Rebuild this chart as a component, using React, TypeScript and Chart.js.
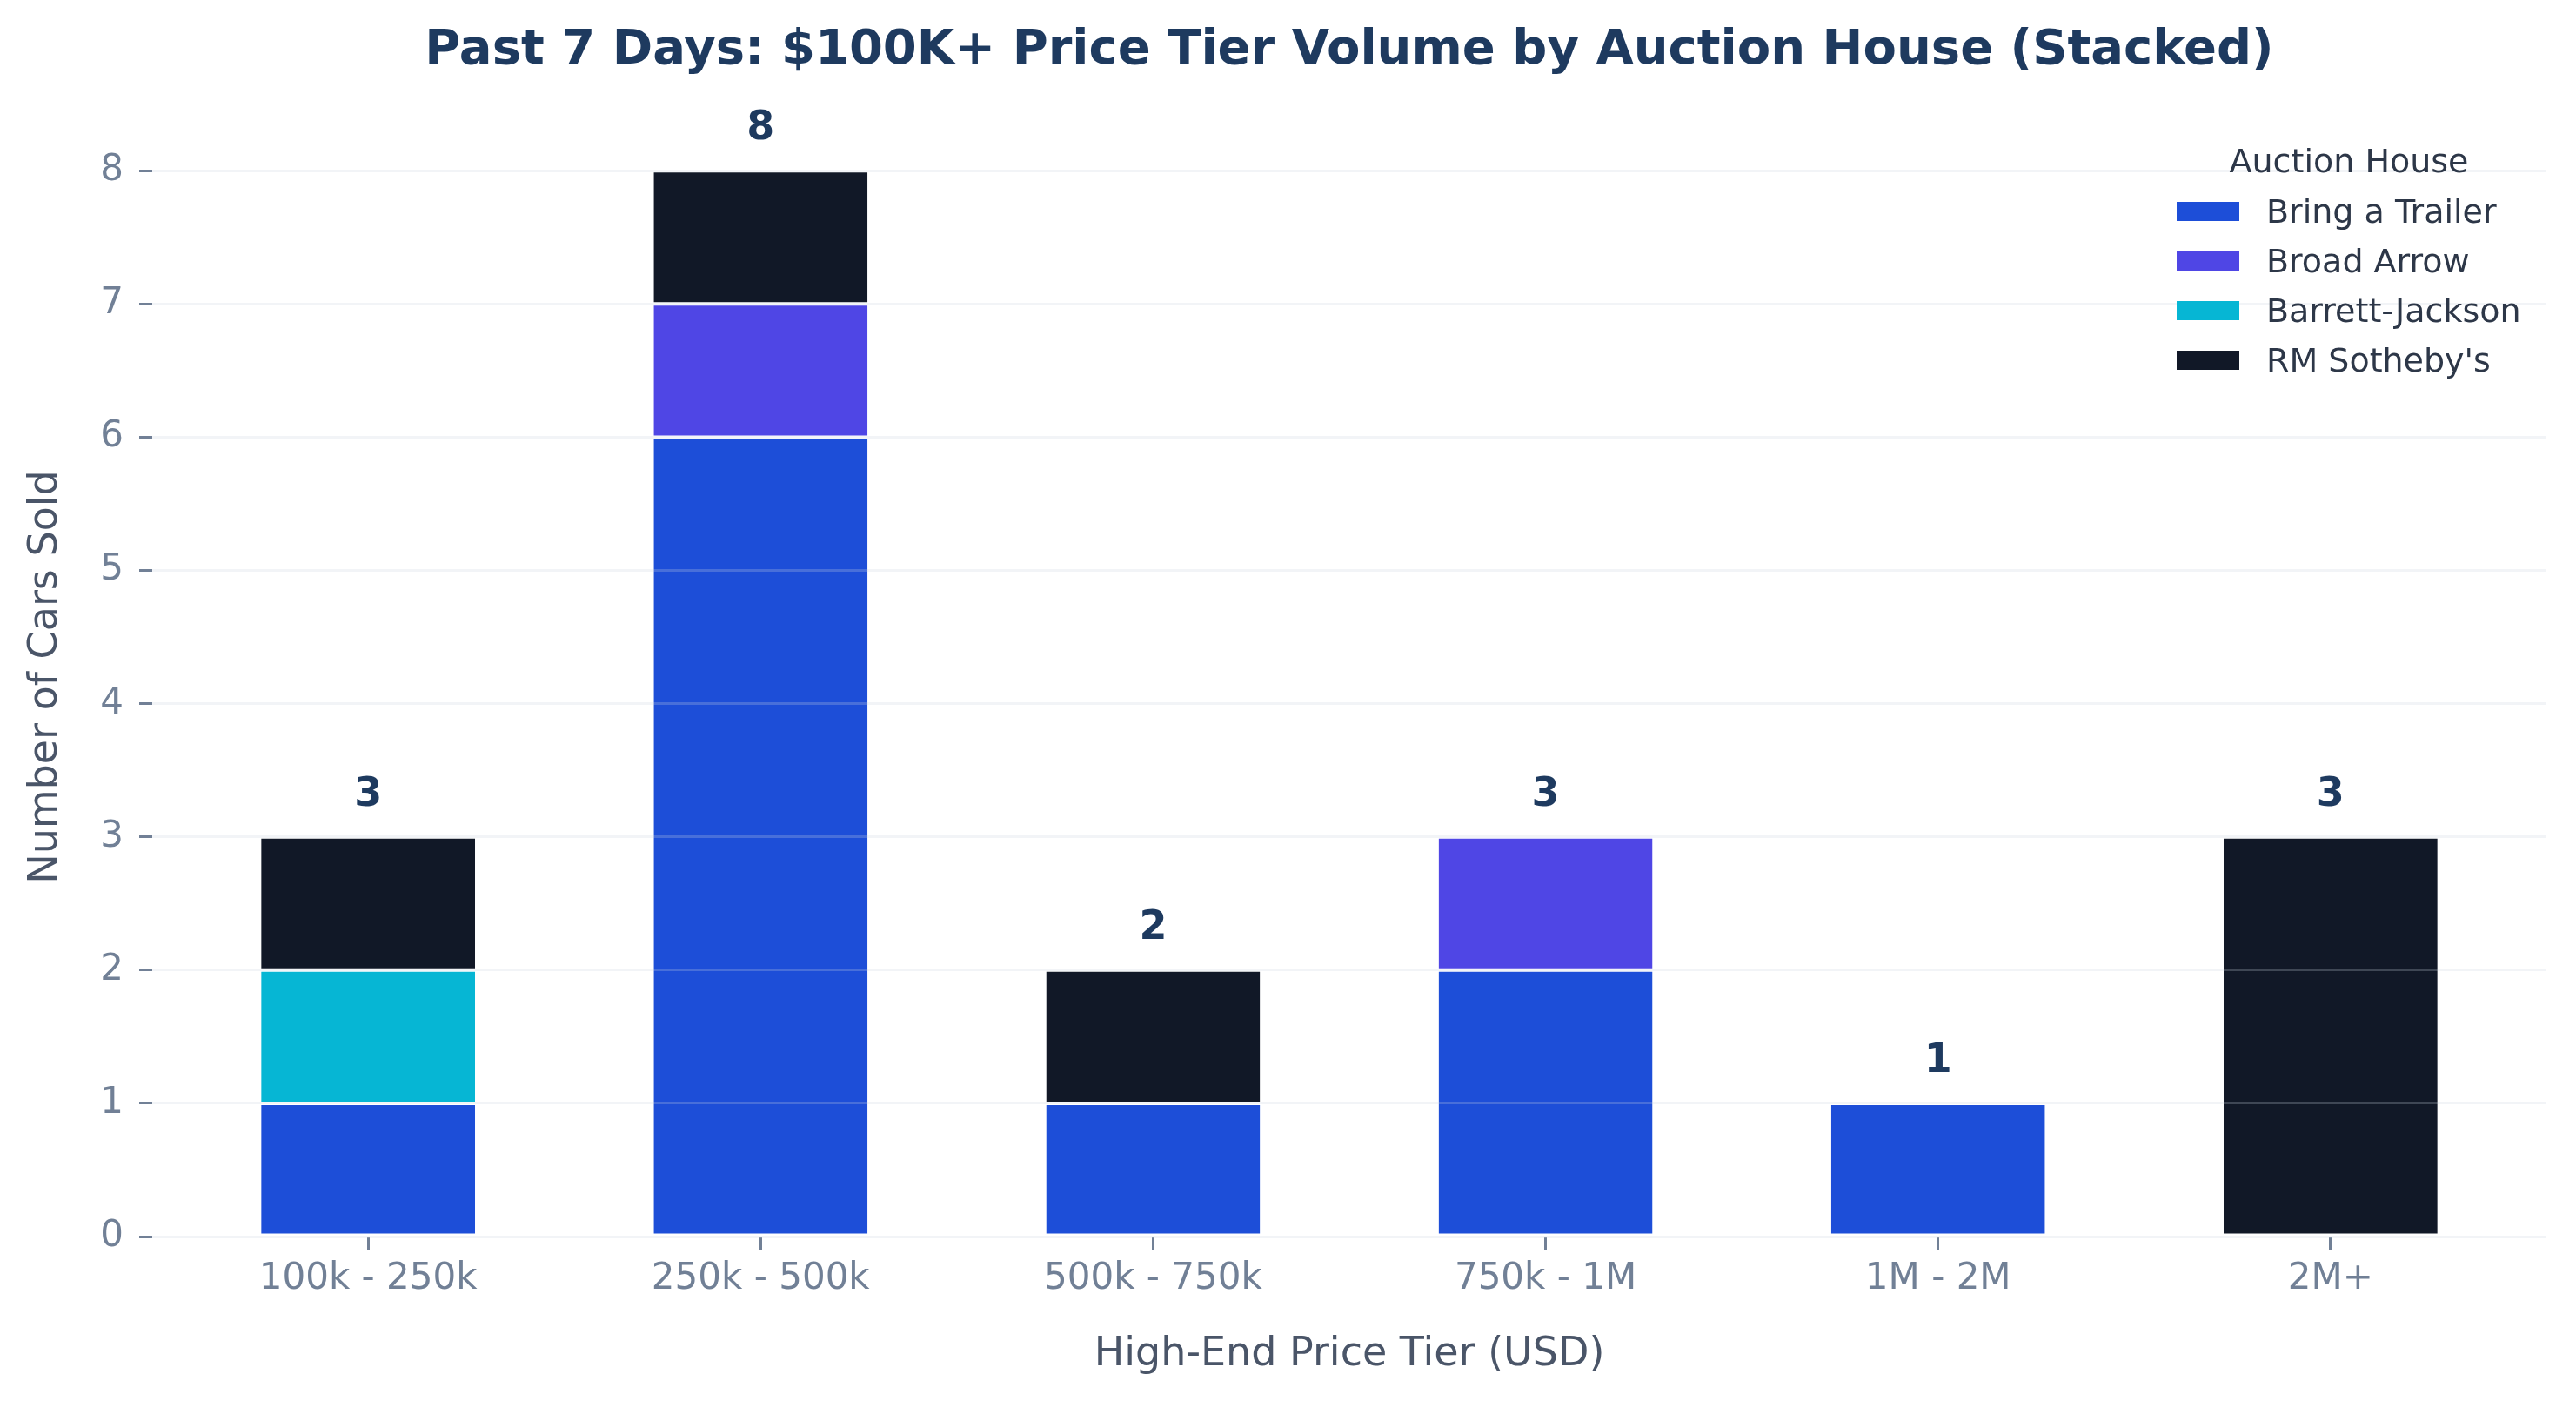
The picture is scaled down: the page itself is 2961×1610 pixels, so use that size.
import React, { useEffect, useRef } from 'react';
import { Chart, registerables } from 'chart.js';

Chart.register(...registerables);

const chartTitle = 'Past 7 Days: $100K+ Price Tier Volume by Auction House (Stacked)';
const xAxisTitle = 'High-End Price Tier (USD)';
const yAxisTitle = 'Number of Cars Sold';
const legendTitle = 'Auction House';

const categories = ['100k - 250k', '250k - 500k', '500k - 750k', '750k - 1M', '1M - 2M', '2M+'];
const houses = ['Bring a Trailer', 'Broad Arrow', 'Barrett-Jackson', "RM Sotheby's"];
const bringATrailer = [1, 6, 1, 2, 1, 0];
const broadArrow = [0, 1, 0, 1, 0, 0];
const barrettJackson = [1, 0, 0, 0, 0, 0];
const rmSothebys = [1, 1, 1, 0, 0, 3];
const houseColors = ['#1d4ed8', '#4f46e5', '#06b6d4', '#111827'];
const yTicks = [0, 1, 2, 3, 4, 5, 6, 7, 8];

const FONT = '"DejaVu Sans", "Noto Sans", sans-serif';

export default function App() {
  const canvasRef = useRef<HTMLCanvasElement | null>(null);

  useEffect(() => {
    document.body.style.margin = '0';
    const canvas = canvasRef.current;
    if (!canvas) return;

    const seriesValues = [bringATrailer, broadArrow, barrettJackson, rmSothebys];
    const totals = categories.map((_, i) => seriesValues.reduce((s, arr) => s + arr[i], 0));

    const overlay = {
      id: 'overlay',
      afterDraw(chart: any) {
        const { ctx, chartArea, scales } = chart;
        ctx.save();
        // Title
        ctx.font = `bold 56px ${FONT}`;
        ctx.fillStyle = '#1e3a5f';
        ctx.textAlign = 'center';
        ctx.textBaseline = 'alphabetic';
        ctx.fillText(chartTitle, (chartArea.left + chartArea.right) / 2, 73);

        // Totals above bars
        ctx.font = `bold 46px ${FONT}`;
        ctx.fillStyle = '#1e3a5f';
        totals.forEach((t, i) => {
          const x = scales.x.getPixelForValue(i);
          const y = scales.y.getPixelForValue(t) - 36;
          ctx.fillText(String(t), x, y);
        });

        // Legend
        const boxLeft = chartArea.right - 425;
        ctx.font = `38px ${FONT}`;
        ctx.fillStyle = '#2d3748';
        ctx.textAlign = 'center';
        ctx.fillText(legendTitle, boxLeft + 198, 198);
        ctx.textAlign = 'left';
        houses.forEach((h, k) => {
          const base = 256 + k * 57;
          ctx.fillStyle = houseColors[k];
          ctx.fillRect(boxLeft, base - 24, 72, 22);
          ctx.fillStyle = '#2d3748';
          ctx.fillText(h, boxLeft + 103, base);
        });
        ctx.restore();
      },
    };

    const chart = new Chart(canvas, {
      type: 'bar',
      data: {
        datasets: houses.map((h, k) => ({
          label: h,
          data: seriesValues[k].map((v, i) => ({ x: i, y: v })),
          backgroundColor: houseColors[k],
          borderColor: '#ffffff',
          borderWidth: { top: 2, bottom: 2, left: 0, right: 0 },
          borderSkipped: false,
          categoryPercentage: 1,
          barPercentage: 0.545,
        })),
      },
      options: {
        animation: false,
        responsive: true,
        maintainAspectRatio: false,
        layout: { padding: { top: 135, right: 34, left: 0, bottom: 0 } },
        plugins: {
          legend: { display: false },
          title: { display: false },
          tooltip: { enabled: false },
        },
        scales: {
          x: {
            type: 'linear',
            stacked: true,
            offset: false,
            min: -0.55,
            max: 5.55,
            afterBuildTicks: (scale: any) => {
              scale.ticks = categories.map((_, i) => ({ value: i }));
            },
            afterFit: (scale: any) => {
              scale.height = 189;
            },
            ticks: {
              autoSkip: false,
              maxRotation: 0,
              minRotation: 0,
              padding: 9,
              color: '#718096',
              font: { family: FONT, size: 42 },
              callback: (v: any) => categories[Math.round(Number(v))] ?? '',
            },
            grid: {
              offset: false,
              drawOnChartArea: false,
              drawTicks: true,
              tickLength: 15,
              tickWidth: 3,
              tickColor: '#718096',
            },
            border: { display: false },
            title: {
              display: true,
              text: xAxisTitle,
              color: '#4a5568',
              font: { family: FONT, size: 46 },
              padding: { top: 0, bottom: 25 },
            },
          },
          y: {
            stacked: true,
            min: 0,
            max: 8.4,
            afterBuildTicks: (scale: any) => {
              scale.ticks = yTicks.map((v) => ({ value: v }));
            },
            afterFit: (scale: any) => {
              scale.width = 175;
            },
            ticks: {
              padding: 18,
              color: '#718096',
              font: { family: FONT, size: 42 },
            },
            grid: {
              color: 'rgba(203,213,225,0.25)',
              lineWidth: 3,
              drawTicks: true,
              tickLength: 15,
              tickWidth: 3,
              tickColor: '#718096',
              z: 1,
            },
            border: { display: false },
            title: {
              display: true,
              text: yAxisTitle,
              color: '#4a5568',
              font: { family: FONT, size: 46 },
              padding: { top: 25, bottom: 0 },
            },
          },
        },
      },
      plugins: [overlay],
    } as any);

    return () => {
      chart.destroy();
    };
  }, []);

  return (
    <div style={{ position: 'fixed', left: 0, top: 0, width: 2961, height: 1610, background: '#ffffff' }}>
      <canvas ref={canvasRef} />
    </div>
  );
}
